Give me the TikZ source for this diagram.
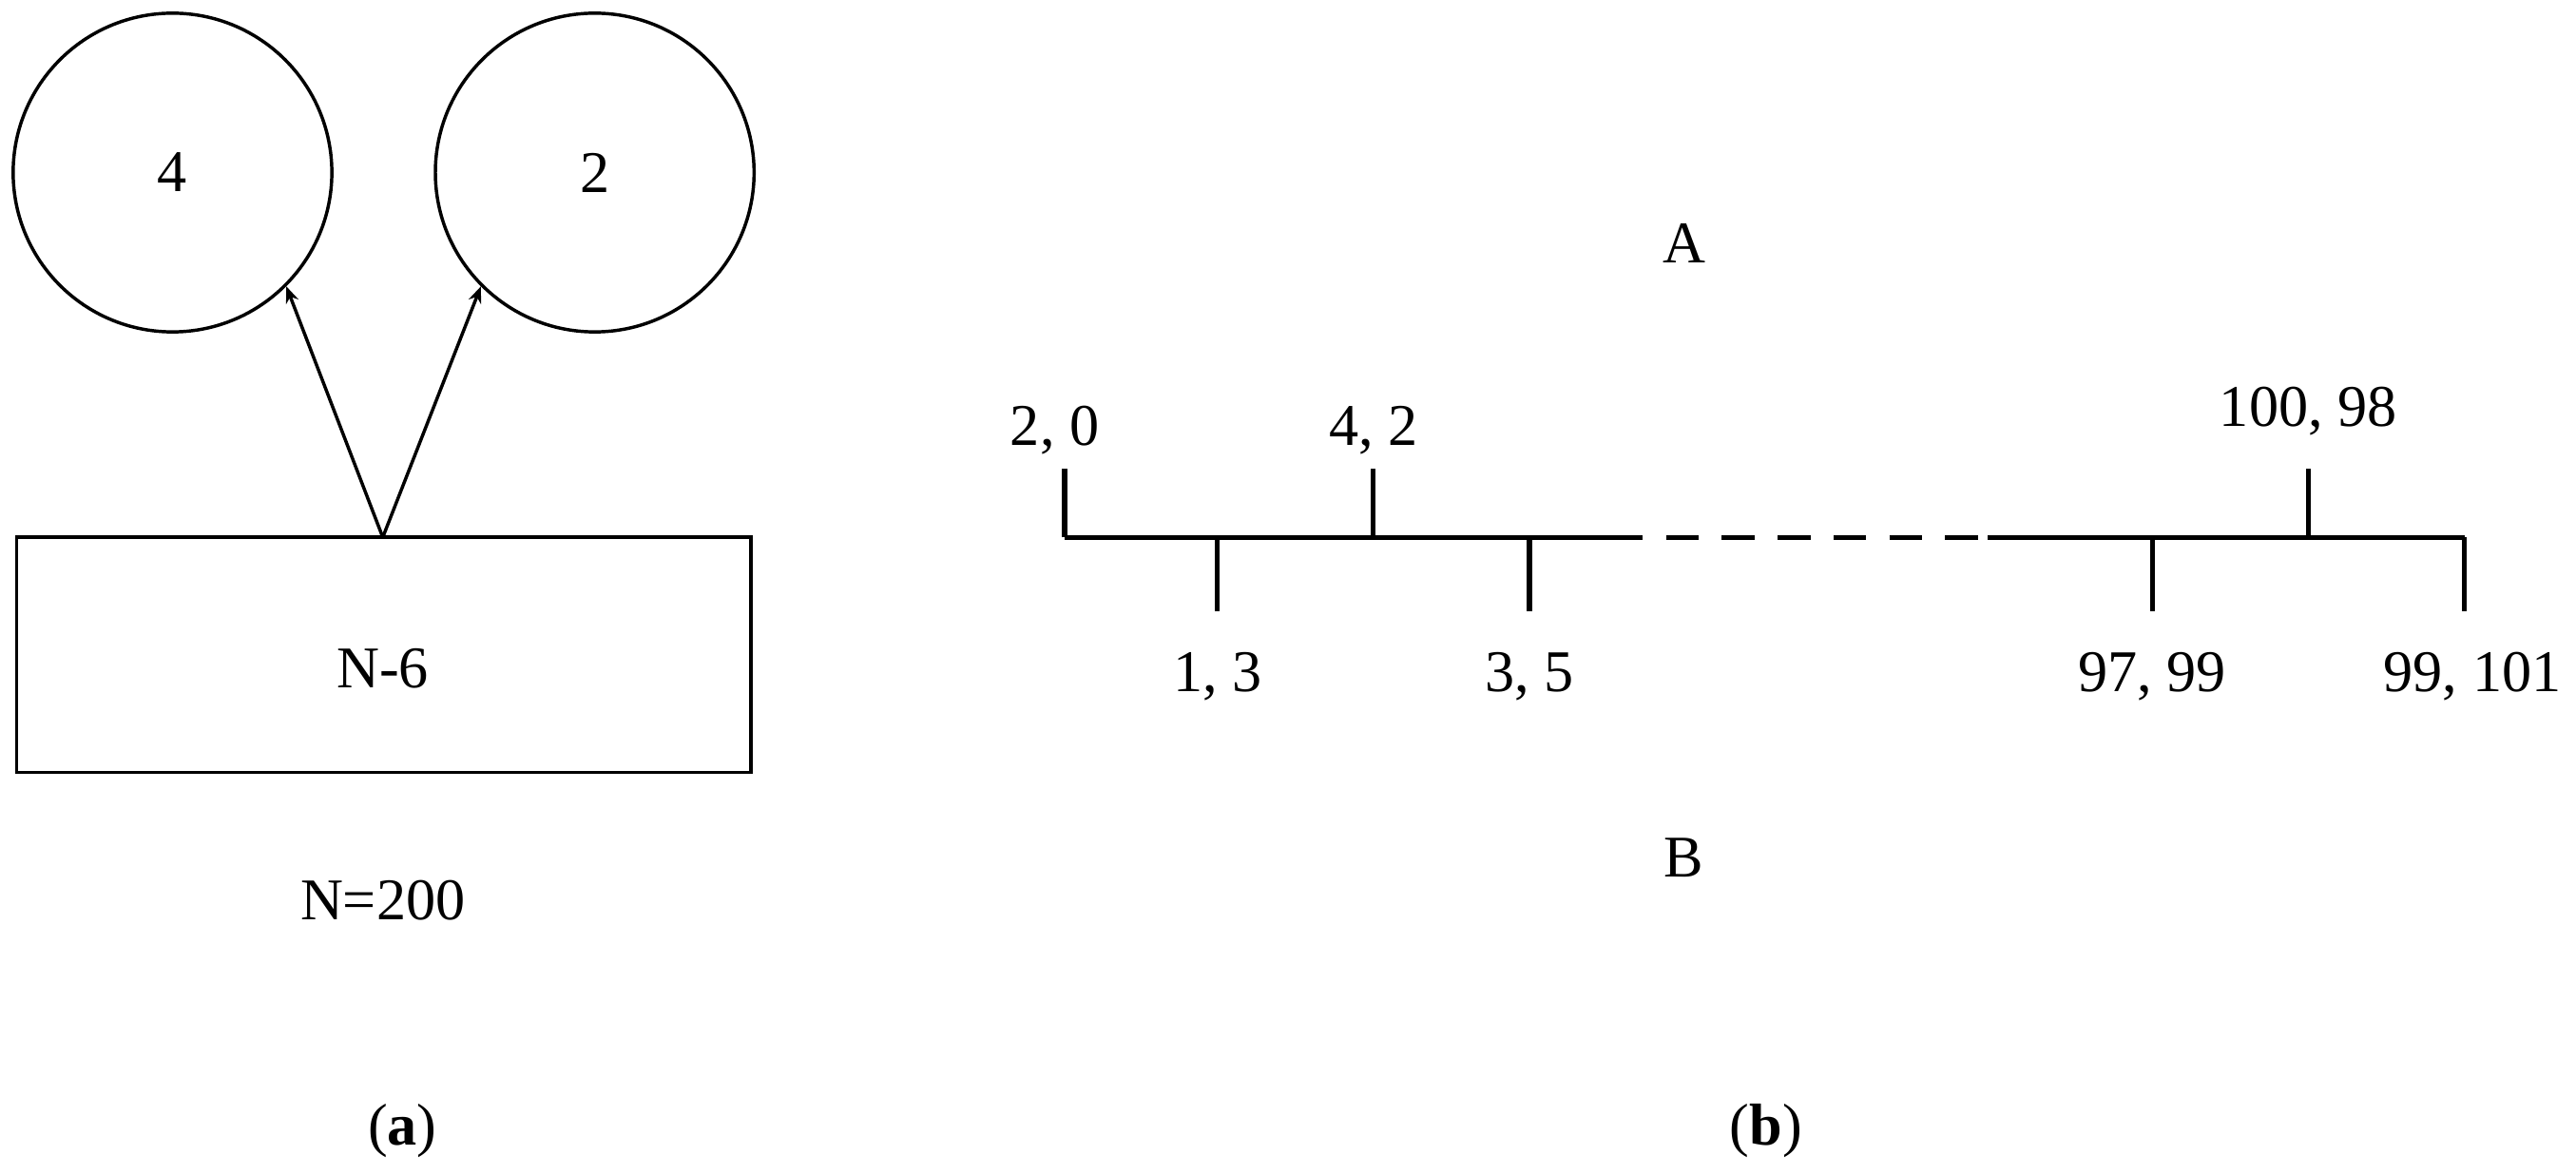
\documentclass[tikz,border=0pt]{standalone}
\usepackage{fontspec}
\setmainfont{Liberation Serif}
\usetikzlibrary{arrows.meta}
\begin{document}
\begin{tikzpicture}[x=0.5pt,y=-0.5pt,
  every node/.style={font=\fontsize{18}{22}\selectfont},
  shp/.style={draw,line width=1pt,inner sep=0pt},
  ax/.style={line width=1.5pt},
  arr/.style={line width=1pt,-{Stealth[length=5pt,width=4pt]}}]
\useasboundingbox (0,0) rectangle (1568,714.6);
\node[shp,circle,minimum size=97pt] (c1) at (105,105) {4};
\node[shp,circle,minimum size=97pt] (c2) at (362,105) {2};
\node[shp,rectangle,minimum width=223.5pt,minimum height=71.5pt] (r) at (233.5,398.5) {};
\node at (233,407) {N-6};
\coordinate (t) at (233,327);
\draw[arr] (t) -- (c1.south east);
\draw[arr] (t) -- (c2.south west);
\node at (233,548) {N=200};
\node at (245,688) {(\textbf{a})};
\node at (1075,688) {(\textbf{b})};
\node at (1025,148) {A};
\node at (1025,522) {B};
\coordinate (L0) at (648,327); \coordinate (L1) at (980,327);
\coordinate (L2) at (1210,327); \coordinate (L3) at (1500,327);
\draw[ax] (L0) -- (L1);
\draw[ax,dash pattern=on 10pt off 7pt] (L1) -- (L2);
\draw[ax] (L2) -- (L3);
\foreach \x in {648,836,1405} \draw[ax] (\x,327) -- (\x,285);
\foreach \x in {741,931,1310,1500} \draw[ax] (\x,327) -- (\x,372);
\node at (642,262) {2, 0};
\node at (836,262) {4, 2};
\node at (1405,250) {100, 98};
\node at (741,412) {1, 3};
\node at (931,412) {3, 5};
\node at (1310,412) {97, 99};
\node[anchor=east] at (1566,412) {99, 101};
\end{tikzpicture}
\end{document}
